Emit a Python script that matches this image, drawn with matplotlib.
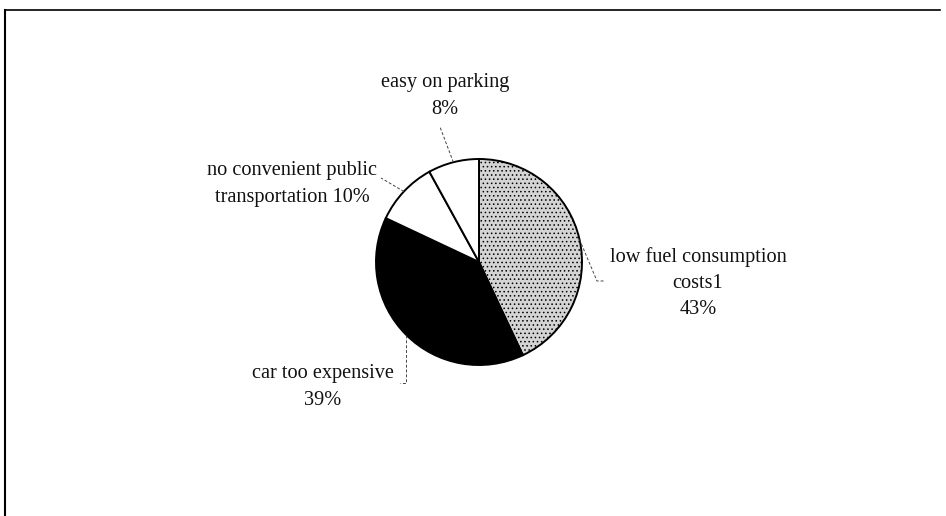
import numpy as np
import matplotlib
matplotlib.use("Agg")
from matplotlib import pyplot as plt

# pie data (percent), clockwise from 12 o'clock
labels = ["low fuel consumption\ncosts1", "car too expensive",
          "no convenient public\ntransportation", "easy on parking"]
shares = [43, 39, 10, 8]
label_text = ["low fuel consumption\ncosts1\n43%", "car too expensive\n39%",
              "no convenient public\ntransportation 10%", "easy on parking\n8%"]

W, H = 946, 516
plt.rcParams['font.family'] = ['Liberation Serif', 'DejaVu Serif']
plt.rcParams['hatch.linewidth'] = 0.6

fig = plt.figure(figsize=(W / 100, H / 100), dpi=100)
ax = fig.add_axes([0, 0, 1, 1])


def Y(py):
    return H - py


cx, cy, r = 479, 262, 103
wedges, _ = ax.pie(shares, startangle=90, counterclock=False,
                   colors=["#d4d4d4", "black", "white", "white"],
                   center=(cx, Y(cy)), radius=r,
                   wedgeprops=dict(edgecolor="black", linewidth=1.4))
wedges[0].set_hatch("....")

ax.set_xlim(0, W)
ax.set_ylim(0, H)
ax.set_aspect("equal")
ax.axis("off")

# wedge mid angles for leader lines
ang = 90 - np.cumsum([0] + shares[:-1]) * 3.6 - np.array(shares) * 1.8
edge = [(cx + r * np.cos(np.radians(a)), cy - r * np.sin(np.radians(a))) for a in ang]

# text centres and leader elbows (pixels, y down)
text_pos = [(698, 283), (323, 387), (292, 184), (445, 96)]
elbows = [[(597, 281), (605, 281)], [(edge[1][0], 383), (edge[1][0] - 6, 383)],
          [(381, 178)], [(440, 127)]]

for i in range(4):
    ax.text(text_pos[i][0], Y(text_pos[i][1]), label_text[i], ha="center", va="center",
            fontsize=14.6, linespacing=1.52, color="#111111")
    pts = [edge[i]] + elbows[i]
    ax.plot([p[0] for p in pts], [Y(p[1]) for p in pts], color="#444444",
            lw=0.7, ls=(0, (3, 2)))

# scanned frame (top and left borders)
ax.plot([5, 940], [Y(10), Y(10)], color="black", lw=1.2, clip_on=False)
ax.plot([5, 5], [Y(10), 0], color="black", lw=1.5, clip_on=False)

fig.savefig("out.png", dpi=100)
